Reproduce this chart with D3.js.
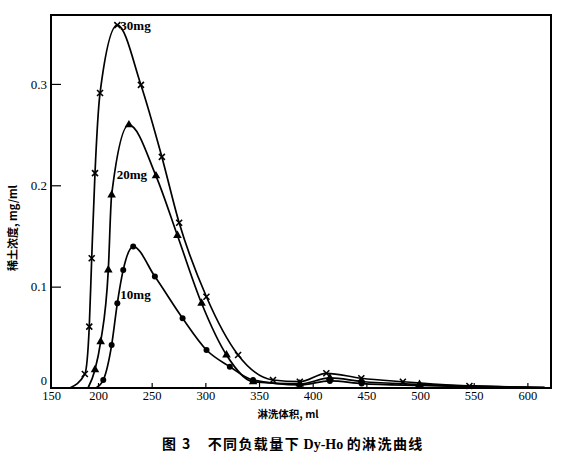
<!DOCTYPE html>
<html><head><meta charset="utf-8">
<script src="https://cdn.jsdelivr.net/npm/d3@7"></script>
<style>body{margin:0;background:#fff}svg{display:block}</style>
</head><body><svg id="c" width="571" height="468"></svg>
<script>
// ---- data (eluent volume, ml  /  rare-earth concentration, mg/ml) ----
const volume30 = [170, 186, 190.7, 193.3, 196.8, 201.9, 218, 240, 259.5, 275.6, 301, 330.5, 363, 388, 412.7, 445.3, 484, 546, 616];
const conc30   = [0, 0.0138, 0.0605, 0.128, 0.212, 0.291, 0.358, 0.299, 0.228, 0.163, 0.090, 0.0326, 0.0079, 0.0062, 0.0145, 0.0096, 0.0062, 0.002, 0.0005];
const volume20 = [189.4, 196.8, 202.5, 209.6, 212.7, 228.8, 254, 274, 296.5, 319.7, 344.5, 388, 416, 445.6, 499.5, 616];
const conc20   = [0, 0.018, 0.0457, 0.1165, 0.1905, 0.2596, 0.2093, 0.1505, 0.0836, 0.0326, 0.0062, 0.004, 0.0099, 0.0064, 0.0035, 0.0005];
const volume10 = [197.9, 204.9, 212.7, 218, 223.5, 232.8, 253, 278.8, 301.1, 322.8, 344.5, 388, 416, 445.6, 499.5, 616];
const conc10   = [0, 0.0079, 0.0424, 0.0836, 0.1165, 0.1395, 0.1099, 0.0688, 0.0375, 0.021, 0.0079, 0.003, 0.007, 0.0044, 0.0025, 0.0005];
const seriesNames = ["30mg", "20mg", "10mg"];
const xTickValues = [150, 200, 250, 300, 350, 400, 450, 500, 550, 600];
const yTickValues = [0, 0.1, 0.2, 0.3];
const yTickLabels = ["0", "0.1", "0.2", "0.3"];
const xTitle = "淋洗体积, ml";
const yTitle = "稀土浓度, mg/ml";
const caption = ["图 3", "不同负载量下", " Dy-Ho ", "的淋洗曲线"];

// ---- scales ----
const svg = d3.select("#c");
const x = d3.scaleLinear().domain([150, 200, 622]).range([51, 98, 551]);
const y = d3.scaleLinear().domain([0, 0.368]).range([388, 15]);
const serif = "'Liberation Serif','DejaVu Serif',serif";
const cjk = "'Noto Sans CJK SC','Noto Sans CJK JP',sans-serif";

// frame
svg.append("rect")
  .attr("x", x(150)).attr("y", y(0.368))
  .attr("width", x(622) - x(150)).attr("height", y(0) - y(0.368))
  .attr("fill", "none").attr("stroke", "#000").attr("stroke-width", 2);

// x axis
const gx = svg.append("g").attr("transform", `translate(0,${y(0)})`)
  .call(d3.axisBottom(x).tickValues(xTickValues).tickSizeInner(-5).tickSizeOuter(0).tickPadding(3).tickFormat(d3.format("d")));
gx.select(".domain").remove();
gx.selectAll(".tick line").attr("stroke-width", 1.2).filter(d => d === 150).remove();
gx.selectAll("text").attr("font-family", serif).attr("font-size", 12.5).attr("fill", "#000");

// y axis
const gy = svg.append("g").attr("transform", `translate(${x(150)},0)`)
  .call(d3.axisLeft(y).tickValues(yTickValues).tickSizeInner(-10).tickSizeOuter(0).tickPadding(4)
    .tickFormat((d, i) => yTickLabels[i]));
gy.select(".domain").remove();
gy.selectAll(".tick line").attr("stroke-width", 1.2).filter(d => d === 0).remove();
gy.selectAll("text").attr("font-family", serif).attr("font-size", 13).attr("fill", "#000");
gy.selectAll(".tick").filter(d => d === 0).select("text").attr("dy", "-0.32em").attr("font-size", 12.5);

// titles
svg.append("text").attr("x", 288).attr("y", 418).attr("text-anchor", "middle")
  .attr("font-family", cjk).attr("font-weight", "bold").attr("font-size", 10.5).text(xTitle);
svg.append("text").attr("transform", "translate(17,228) rotate(-90)").attr("text-anchor", "middle")
  .attr("font-family", cjk).attr("font-weight", "bold").attr("font-size", 11).text(yTitle);

// caption
const cap = svg.append("text").attr("x", 162).attr("y", 449).attr("font-size", 14).attr("font-weight", "bold")
  .attr("letter-spacing", 1.4).attr("xml:space", "preserve");
cap.append("tspan").attr("font-family", cjk).text(caption[0]);
cap.append("tspan").attr("dx", 16).attr("font-family", cjk).text(caption[1]);
cap.append("tspan").attr("font-family", serif).attr("letter-spacing", 0).text(caption[2]);
cap.append("tspan").attr("font-family", cjk).text(caption[3]);

// series
const series = [
  {name: seriesNames[0], vx: volume30, vy: conc30, mark: "x", lab: 6, dx: 3, dy: 5},
  {name: seriesNames[1], vx: volume20, vy: conc20, mark: "tri", lab: 4, dx: 5, dy: -16},
  {name: seriesNames[2], vx: volume10, vy: conc10, mark: "dot", lab: 3, dx: 3, dy: -4}
];
const line = d3.line().x(d => x(d[0])).y(d => y(d[1])).curve(d3.curveMonotoneX);
series.forEach(s => {
  const pts = s.vx.map((v, i) => [v, s.vy[i]]);
  svg.append("path").datum(pts).attr("d", line)
    .attr("fill", "none").attr("stroke", "#000").attr("stroke-width", 1.7);
  const m = svg.append("g").selectAll("g").data(pts.slice(1, -1)).join("g")
    .attr("transform", d => `translate(${x(d[0])},${y(d[1])})`);
  if (s.mark === "x") {
    m.append("path").attr("d", "M-3,-3L3,3M-3,3L3,-3").attr("stroke", "#000").attr("stroke-width", 1.6);
  } else if (s.mark === "tri") {
    m.append("path").attr("d", d3.symbol(d3.symbolTriangle, 32)).attr("fill", "#000");
  } else {
    m.append("circle").attr("r", 3).attr("fill", "#000");
  }
  const p = pts[s.lab];
  svg.append("text").attr("x", x(p[0]) + s.dx).attr("y", y(p[1]) + s.dy)
    .attr("font-family", serif).attr("font-weight", "bold").attr("font-size", 13).text(s.name);
});
</script></body></html>
